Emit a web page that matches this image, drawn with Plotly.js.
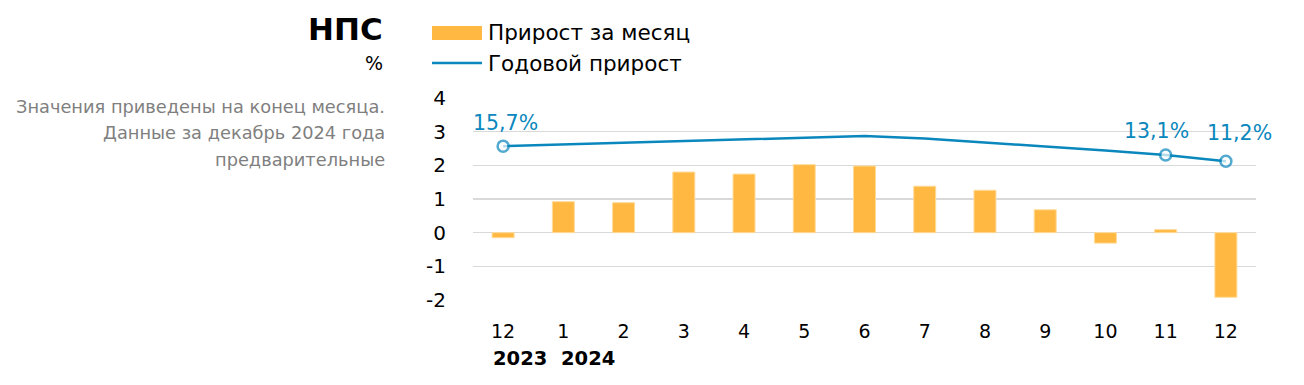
<!DOCTYPE html>
<html><head><meta charset="utf-8">
<script src="https://cdn.plot.ly/plotly-3.0.1.min.js"></script>
<style>html,body{margin:0;padding:0;background:#fff}#c{width:1304px;height:385px}</style>
</head><body><div id="c"></div>
<script>
const months = ['12','1','2','3','4','5','6','7','8','9','10','11','12'];
const yearLabels = ['2023','2024'];
const monthlyGrowth = [-0.15, 0.92, 0.89, 1.80, 1.74, 2.02, 1.98, 1.38, 1.26, 0.68, -0.31, 0.09, -1.92];
const annualGrowth = [15.7, 16.2, 16.7, 17.2, 17.8, 18.3, 18.7, 18.0, 16.7, 15.6, 14.4, 13.1, 11.2];
const labeledPoints = [0, 11, 12];
const yTicks = [-2, -1, 0, 1, 2, 3, 4];

const BAR = '#FFB943', LINE = '#0A87BD', FONT = '"DejaVu Sans", sans-serif';
const xIdx = months.map((m, i) => i);

const traces = [
  {type: 'bar', x: xIdx, y: monthlyGrowth, name: 'Прирост за месяц',
   marker: {color: BAR, line: {color: '#FFDB99', width: 1}}, hoverinfo: 'y'},
  {type: 'scatter', mode: 'lines+markers', x: xIdx, y: annualGrowth, yaxis: 'y2', name: 'Годовой прирост',
   line: {color: LINE, width: 2.5},
   marker: {size: xIdx.map(i => labeledPoints.includes(i) ? 11 : 0), color: '#fff',
            line: {color: LINE, width: 2.5}}, cliponaxis: false}
];

const ann = [];
const lblShift = {0: [2, 23], 11: [-9, 24], 12: [14, 28]};
labeledPoints.forEach(i => {
  ann.push({x: i, y: annualGrowth[i], xref: 'x', yref: 'y2', showarrow: false,
    text: annualGrowth[i].toFixed(1).replace('.', ',') + '%',
    xshift: lblShift[i][0], yshift: lblShift[i][1],
    font: {family: FONT, size: 20.5, color: LINE}});
});
const pxX = px => (px - 473) / 783;
const pxY = py => (300 - py) / 202;
const yearPx = [491, 559];
yearLabels.forEach((t, k) => {
  ann.push({x: pxX(yearPx[k]), y: pxY(358), xref: 'paper', yref: 'paper', xanchor: 'left', yanchor: 'middle',
    showarrow: false, text: '<b>' + t + '</b>', font: {family: FONT, size: 19.5, color: '#000'}});
});
// title block
ann.push({xref: 'paper', yref: 'paper', x: pxX(385), y: pxY(29), xanchor: 'right', yanchor: 'middle',
  showarrow: false, text: '<b>НПС</b>', font: {family: FONT, size: 31, color: '#000'}});
ann.push({xref: 'paper', yref: 'paper', x: pxX(385), y: pxY(63), xanchor: 'right', yanchor: 'middle',
  showarrow: false, text: '%', font: {family: FONT, size: 19, color: '#000'}});
['Значения приведены на конец месяца.', 'Данные за декабрь 2024 года', 'предварительные'].forEach((t, k) => {
  ann.push({xref: 'paper', yref: 'paper', x: pxX(387), y: pxY(106 + k * 26.5), xanchor: 'right', yanchor: 'middle',
    showarrow: false, text: t, font: {family: FONT, size: 17.8, color: '#7f7f7f'}});
});
// custom legend
ann.push({xref: 'paper', yref: 'paper', x: pxX(486), y: pxY(33), xanchor: 'left', yanchor: 'middle',
  showarrow: false, text: traces[0].name, font: {family: FONT, size: 21.5, color: '#000'}});
ann.push({xref: 'paper', yref: 'paper', x: pxX(486), y: pxY(63), xanchor: 'left', yanchor: 'middle',
  showarrow: false, text: traces[1].name, font: {family: FONT, size: 21.5, color: '#000'}});
const shapes = [
  {type: 'rect', xref: 'paper', yref: 'paper', x0: pxX(432), x1: pxX(482), y0: pxY(40), y1: pxY(26),
   fillcolor: BAR, line: {width: 0}},
  {type: 'line', xref: 'paper', yref: 'paper', x0: pxX(432), x1: pxX(482), y0: pxY(63), y1: pxY(63),
   line: {color: LINE, width: 2.5}}
];

const layout = {
  width: 1304, height: 385, margin: {l: 473, r: 48, t: 98, b: 85},
  paper_bgcolor: '#fff', plot_bgcolor: '#fff', showlegend: false, bargap: 0.635,
  font: {family: FONT, color: '#000'},
  xaxis: {tickvals: xIdx, ticktext: months, range: [-0.5, 12.5], showgrid: false, zeroline: false,
    ticks: '', ticklabelstandoff: 18, tickfont: {family: FONT, size: 19, color: '#000'}},
  yaxis: {range: [-2, 4], tickvals: yTicks, ticktext: yTicks.map(String), showgrid: true,
    gridcolor: '#d9d9d9', gridwidth: 1.5, zeroline: false, ticks: '', ticklabelstandoff: 26,
    tickfont: {family: FONT, size: 20, color: '#000'}},
  yaxis2: {overlaying: 'y', range: [-30, 30], visible: false, showgrid: false, zeroline: false},
  annotations: ann, shapes: shapes
};
Plotly.newPlot('c', traces, layout, {staticPlot: true, displayModeBar: false});
</script></body></html>
